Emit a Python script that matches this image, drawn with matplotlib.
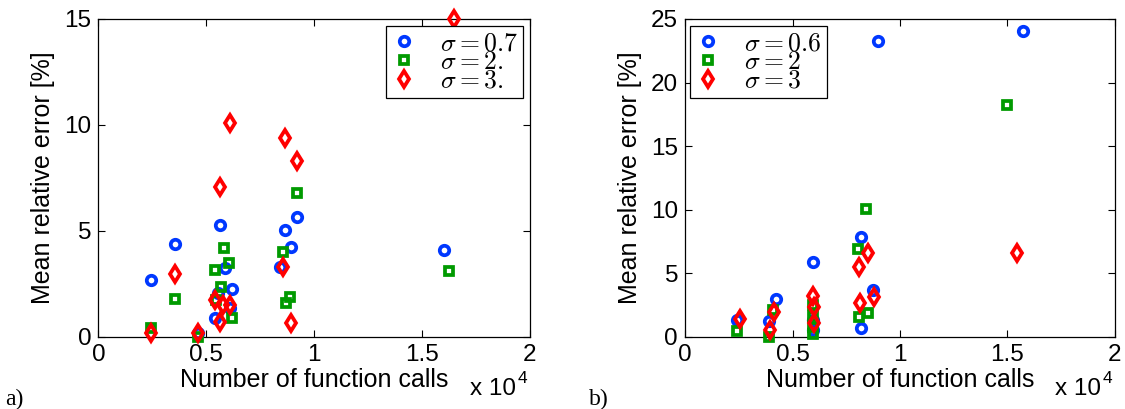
import matplotlib
matplotlib.use("Agg")
import numpy as np
import matplotlib.pyplot as plt

plt.rcParams["font.family"] = ["Liberation Sans", "DejaVu Sans"]
plt.rcParams["mathtext.fontset"] = "cm"

# ---- panel a) ----
a_x_s07 = [2420, 3550, 4630, 5400, 5560, 5650, 5870, 6100, 6180, 8420, 8650, 8910, 9200, 16000]
a_y_s07 = [2.66, 4.38, 0.16, 0.90, 2.05, 5.28, 3.23, 1.34, 2.25, 3.31, 5.04, 4.25, 5.64, 4.08]
a_x_s2 = [2420, 3550, 4630, 5400, 5450, 5680, 5840, 6050, 6180, 8540, 8700, 8880, 9190, 16230]
a_y_s2 = [0.43, 1.78, 0.0, 3.15, 1.73, 2.33, 4.19, 3.46, 0.87, 3.98, 1.61, 1.86, 6.80, 3.10]
a_x_s3 = [2440, 3550, 4630, 5410, 5640, 5640, 5790, 6100, 6120, 8540, 8650, 8930, 9220, 16500]
a_y_s3 = [0.19, 2.96, 0.16, 1.73, 7.09, 0.71, 1.50, 1.50, 10.11, 3.28, 9.37, 0.63, 8.31, 15.0]
a_labels = [r"$\sigma = 0.7$", r"$\sigma = 2.$", r"$\sigma = 3.$"]
a_yticks = [0, 5, 10, 15]

# ---- panel b) ----
b_x_s06 = [2400, 3920, 4220, 5950, 5950, 5950, 8200, 8200, 8760, 8960, 15740]
b_y_s06 = [1.31, 1.22, 2.94, 5.88, 1.31, 0.52, 7.82, 0.66, 3.67, 23.24, 24.06]
b_x_s2 = [2400, 3920, 4100, 5950, 5950, 5950, 5950, 8030, 8090, 8400, 8530, 15000]
b_y_s2 = [0.45, 0.0, 2.1, 2.5, 1.6, 0.8, 0.2, 6.93, 1.52, 10.02, 1.84, 18.26]
b_x_s3 = [2570, 3950, 4120, 5950, 6000, 6000, 8110, 8120, 8530, 8810, 15430]
b_y_s3 = [1.36, 0.52, 1.92, 3.2, 2.31, 1.05, 5.51, 2.68, 6.61, 3.10, 6.61]
b_labels = [r"$\sigma = 0.6$", r"$\sigma = 2$", r"$\sigma = 3$"]
b_yticks = [0, 5, 10, 15, 20, 25]

xticks = [0, 0.5, 1, 1.5, 2]
xticklabels = ["0", "0.5", "1", "1.5", "2"]

BLUE = "#0038ff"
GREEN = "#009a00"
RED = "#ff0000"
styles = [
    dict(marker="o", color=BLUE, ms=6.8),
    dict(marker="s", color=GREEN, ms=5.6),
    dict(marker="d", color=RED, ms=7.8),
]

fig = plt.figure(figsize=(11.25, 4.09), dpi=100)
ax_a = fig.add_axes([0.0874, 0.1768, 0.3837, 0.7768])
ax_b = fig.add_axes([0.6089, 0.1768, 0.3822, 0.7768])


def draw_panel(ax, series, labels, yticks, legend_loc, legend_anchor):
    for (xs, ys), st, lab in zip(series, styles, labels):
        ax.plot(np.array(xs) / 1e4, ys, linestyle="none", marker=st["marker"],
                ms=st["ms"], mfc="none", mec=st["color"], mew=2.7,
                label=lab, clip_on=False, zorder=3)
    ax.set_xlim(0, 2)
    ax.set_ylim(yticks[0], yticks[-1])
    ax.set_xticks(xticks)
    ax.set_xticklabels(xticklabels)
    ax.set_yticks(yticks)
    ax.tick_params(direction="in", length=5, width=0.8, top=True, right=True,
                   labelsize=17.5, pad=5)
    for sp in ax.spines.values():
        sp.set_linewidth(0.9)
    ax.set_xlabel("Number of function calls", fontsize=18)
    ax.set_ylabel("Mean relative error [%]", fontsize=18)
    ax.xaxis.set_label_coords(0.5, -0.10)
    ax.yaxis.set_label_coords(-0.10, 0.5)
    leg = ax.legend(loc=legend_loc, bbox_to_anchor=legend_anchor, borderaxespad=0,
                    fontsize=18.5, fancybox=False, framealpha=1, edgecolor="black",
                    handlelength=1.0, handletextpad=0.9, labelspacing=-0.2,
                    borderpad=0.2)
    leg.get_frame().set_linewidth(0.9)
    # exponent label like MATLAB
    ax.text(0.86, -0.185, "x 10", transform=ax.transAxes, fontsize=17.5,
            ha="left", va="baseline")
    ax.text(0.972, -0.108, "4", transform=ax.transAxes, fontsize=12.5,
            ha="left", va="top")


draw_panel(ax_a, [(a_x_s07, a_y_s07), (a_x_s2, a_y_s2), (a_x_s3, a_y_s3)],
           a_labels, a_yticks, "upper right", (0.984, 0.978))
draw_panel(ax_b, [(b_x_s06, b_y_s06), (b_x_s2, b_y_s2), (b_x_s3, b_y_s3)],
           b_labels, b_yticks, "upper left", (0.012, 0.978))

fig.text(5 / 1125, 1 - 405 / 409, "a)", family=["Liberation Serif"], fontsize=17,
         ha="left", va="baseline")
fig.text(589 / 1125, 1 - 405 / 409, "b)", family=["Liberation Serif"], fontsize=17,
         ha="left", va="baseline")

fig.savefig("out.png", dpi=100)
